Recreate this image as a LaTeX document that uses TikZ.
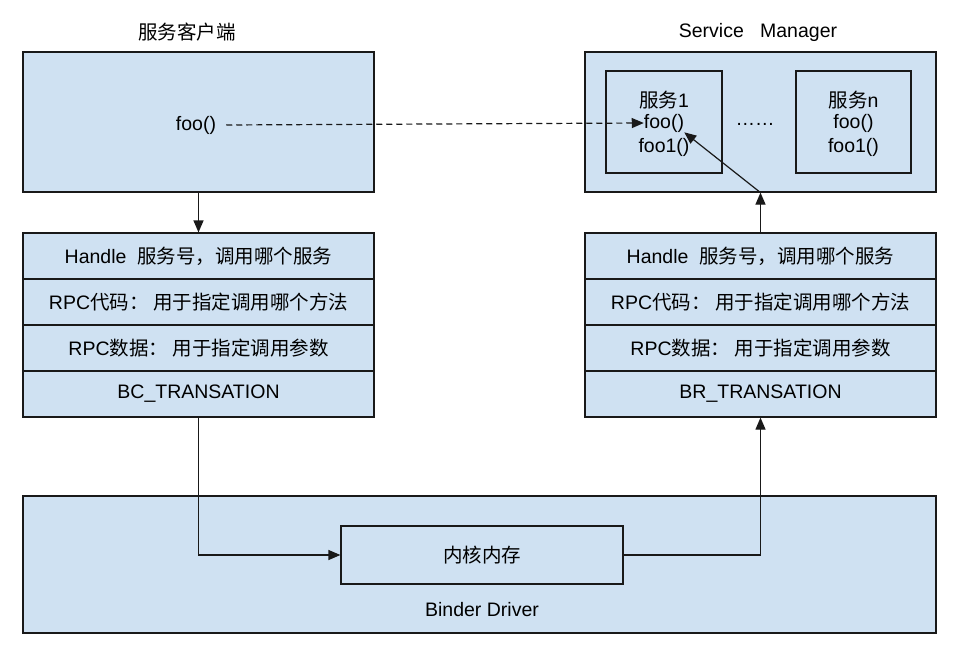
\documentclass[tikz,border=0pt]{standalone}
\usepackage{fontspec}
\setmainfont{Liberation Sans}
\newfontfamily\cjk{Noto Sans CJK SC}
\usetikzlibrary{positioning, arrows.meta}
\definecolor{BoxBlue}{RGB}{207,225,242}
\definecolor{LineDark}{RGB}{25,25,25}
\tikzset{
BoxStyle/.style  ={draw=LineDark, fill=BoxBlue, line width=1.2pt, inner sep=0pt},
RowStyle/.style  ={every node/.style={BoxStyle, minimum width=351pt, minimum height=46pt,
                   font=\fontsize{19.5}{22}\selectfont}},
TextStyle/.style ={inner sep=0pt, font=\fontsize{19.5}{22}\selectfont},
ArrowStyle/.style={draw=LineDark, line width=1.2pt, -{Triangle[length=12pt, width=10pt]}},
}

\begin{document}
\begin{tikzpicture}[x=1pt, y=-1pt]
\useasboundingbox[fill=white] (0,0) rectangle (966,664);

% titles
\node[TextStyle] (ctitle) at (187,32) {\cjk 服务客户端};
\node[TextStyle] (stitle) at (758,32) {Service\ \ \ Manager};

% client and service manager
\node[BoxStyle, minimum width=351pt, minimum height=140pt] (client) at (198.5,122) {};
\node[TextStyle] (cfoo) at (196,125) {foo()};
\node[BoxStyle, minimum width=351pt, minimum height=140pt] (sm) at (760.5,122) {};
\node[BoxStyle, minimum width=116pt, minimum height=102pt] (s1) at (664,122) {};
\node[BoxStyle, minimum width=115pt, minimum height=102pt] (sn) at (853.5,122) {};
\node[TextStyle] (s1a) at (664,100) {{\cjk 服务}1};
\node[TextStyle] (s1b) at (664,123) {foo()};
\node[TextStyle] (s1c) at (664,147) {foo1()};
\node[TextStyle] (sna) at (853.5,100) {{\cjk 服务}n};
\node[TextStyle] (snb) at (853.5,123) {foo()};
\node[TextStyle] (snc) at (853.5,147) {foo1()};
\node[TextStyle] (dots) at (755,124) {……};

% packet rows
\begin{scope}[RowStyle]
\node (lr1) at (198.5,256) {Handle\ \ {\cjk 服务号，调用哪个服务}};
\node (lr2) at (198.5,302) {RPC{\cjk 代码： 用于指定调用哪个方法}};
\node (lr3) at (198.5,348) {RPC{\cjk 数据： 用于指定调用参数}};
\node (lr4) at (198.5,394) {BC\_TRANSATION};
\node (rr1) at (760.5,256) {Handle\ \ {\cjk 服务号，调用哪个服务}};
\node (rr2) at (760.5,302) {RPC{\cjk 代码： 用于指定调用哪个方法}};
\node (rr3) at (760.5,348) {RPC{\cjk 数据： 用于指定调用参数}};
\node (rr4) at (760.5,394) {BR\_TRANSATION};
\end{scope}

% binder driver
\node[BoxStyle, minimum width=913pt, minimum height=137pt] (driver) at (479.5,564.5) {};
\node[BoxStyle, minimum width=282pt, minimum height=58pt,
      font=\fontsize{19.5}{22}\selectfont] (mem) at (482,555) {\cjk 内核内存};
\node[TextStyle] (dname) at (482,610) {Binder Driver};

% arrows
\draw[ArrowStyle, dashed, dash pattern=on 6pt off 4pt] (cfoo.east) ++(10,0) -- (s1b.west);
\draw[ArrowStyle] (client.south) -- (lr1.north);
\draw[ArrowStyle] (lr4.south) |- (mem.west);
\draw[ArrowStyle] (mem.east) -| (rr4.south);
\draw[ArrowStyle] (rr1.north) -- (sm.south);
\draw[ArrowStyle] (sm.south) -- (s1b.south east);
\end{tikzpicture}
\end{document}
